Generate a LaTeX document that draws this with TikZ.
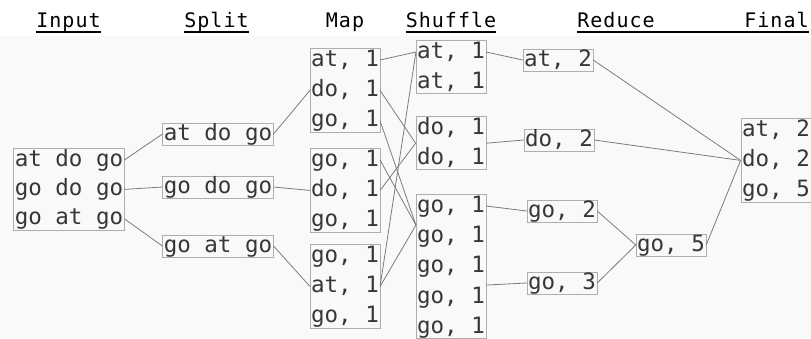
\documentclass[tikz,border=0pt]{standalone}
\usepackage{fontspec}
\newfontfamily\cellfont{DejaVu Sans Mono}
\newfontfamily\headfont[LetterSpace=5]{DejaVu Sans Mono}
\usepackage{tikz}
\usetikzlibrary{
  positioning,
  fit,
  calc
}
\definecolor{inkgray}{HTML}{363636}
\definecolor{wiregray}{HTML}{7C7C7C}
\definecolor{framegray}{HTML}{AEAEAE}
\definecolor{papergray}{HTML}{F9F9F9}
\tikzset{
  cell/.style={
    inner sep=1pt, text height=16pt, text depth=4pt,
    font=\cellfont\fontsize{22.5}{27}\selectfont, text=inkgray
  },
  single/.style={cell, draw=framegray, line width=0.7pt},
  frame/.style={draw=framegray, line width=0.7pt, inner sep=0pt},
  head/.style={anchor=base, inner sep=0pt, font=\headfont\fontsize{20}{24}\selectfont},
  wire/.style={draw=wiregray, line width=0.8pt},
  uline/.style={line width=2.6pt},
}

\begin{document}
\begin{tikzpicture}[x=1pt, y=-1pt, node distance=8pt]
\useasboundingbox (0,0) rectangle (811,338);
\fill[papergray] (0,36) rectangle (811,338);

% Headings
\node[head] (hInput) at (68.5,27) {Input};
\node[head] (hSplit) at (216.5,27) {Split};
\node[head] (hMap) at (345,27) {Map};
\node[head] (hShuffle) at (451,27) {Shuffle};
\node[head] (hReduce) at (616,27) {Reduce};
\node[head] (hFinal) at (776.5,27) {Final};
\draw[uline] ([yshift=-5pt]hInput.base west) -- ([yshift=-5pt]hInput.base east);
\draw[uline] ([yshift=-5pt]hSplit.base west) -- ([yshift=-5pt]hSplit.base east);
\draw[uline] ([yshift=-5pt]hShuffle.base west) -- ([yshift=-5pt]hShuffle.base east);
\draw[uline] ([yshift=-5pt]hReduce.base west) -- ([yshift=-5pt]hFinal.base east);

% Input
\node[cell] (in1) at (69,160) {at do go};
\node[cell, below=7pt of in1] (in2) {go do go};
\node[cell, below=7pt of in2] (in3) {go at go};
\node[frame, fit=(in1)(in3)] (input) {};

% Split
\node[single] (sp1) at (218,134) {at do go};
\node[single] (sp2) at (218,187) {go do go};
\node[single] (sp3) at (218,246) {go at go};

% Map
\node[cell] (m1a) at (345,60) {at, 1};
\node[cell, below=of m1a] (m1b) {do, 1};
\node[cell, below=of m1b] (m1c) {go, 1};
\node[frame, fit=(m1a)(m1c)] (map1) {};
\node[cell] (m2a) at (345,160) {go, 1};
\node[cell, below=of m2a] (m2b) {do, 1};
\node[cell, below=of m2b] (m2c) {go, 1};
\node[frame, fit=(m2a)(m2c)] (map2) {};
\node[cell] (m3a) at (345,256) {go, 1};
\node[cell, below=of m3a] (m3b) {at, 1};
\node[cell, below=of m3b] (m3c) {go, 1};
\node[frame, fit=(m3a)(m3c)] (map3) {};

% Shuffle
\node[cell] (s1a) at (451,52) {at, 1};
\node[cell, below=of s1a] (s1b) {at, 1};
\node[frame, fit=(s1a)(s1b)] (shuf1) {};
\node[cell] (s2a) at (451,128) {do, 1};
\node[cell, below=of s2a] (s2b) {do, 1};
\node[frame, fit=(s2a)(s2b)] (shuf2) {};
\node[cell] (s3a) at (451,206) {go, 1};
\node[cell, below=of s3a] (s3b) {go, 1};
\node[cell, below=of s3b] (s3c) {go, 1};
\node[cell, below=of s3c] (s3d) {go, 1};
\node[cell, below=of s3d] (s3e) {go, 1};
\node[frame, fit=(s3a)(s3e)] (shuf3) {};
\coordinate (s3in) at ($(s3a.west)!0.63!(s3b.west)$);
\coordinate (s3out) at ($(s3c.east)!0.6!(s3d.east)$);

% Reduce
\node[single] (r1) at (558,60) {at, 2};
\node[single] (r2) at (559,140) {do, 2};
\node[single] (r3) at (562,211) {go, 2};
\node[single] (r4) at (562,283) {go, 3};
\node[single] (r5) at (671,245) {go, 5};

% Final
\node[cell] (f1) at (776,130) {at, 2};
\node[cell, below=of f1] (f2) {do, 2};
\node[cell, below=of f2] (f3) {go, 5};
\node[frame, fit=(f1)(f3)] (final) {};

% Connectors
\draw[wire] (in1.east) -- (sp1.west);
\draw[wire] (in2.east) -- (sp2.west);
\draw[wire] (in3.east) -- (sp3.west);
\draw[wire] (sp1.east) -- (m1b.west);
\draw[wire] (sp2.east) -- (m2b.west);
\draw[wire] (sp3.east) -- (m3b.west);
\draw[wire] (m1a.east) -- (s1a.west);
\draw[wire] (m1b.east) -- (shuf2.west);
\draw[wire] (m1c.east) -- (s3in);
\draw[wire] (m2a.east) -- (s3in);
\draw[wire] (m2b.east) -- (shuf2.west);
\draw[wire] (m3b.east) -- (s1a.west);
\draw[wire] (m3b.east) -- (s3in);
\draw[wire] (s1a.east) -- (r1.west);
\draw[wire] (shuf2.east) -- (r2.west);
\draw[wire] (s3a.east) -- (r3.west);
\draw[wire] (s3out) -- (r4.west);
\draw[wire] (r3.east) -- (r5.west);
\draw[wire] (r4.east) -- (r5.west);
\draw[wire] (r1.east) -- (final.west);
\draw[wire] (r2.east) -- (final.west);
\draw[wire] (r5.east) -- (final.west);

\end{tikzpicture}
\end{document}
